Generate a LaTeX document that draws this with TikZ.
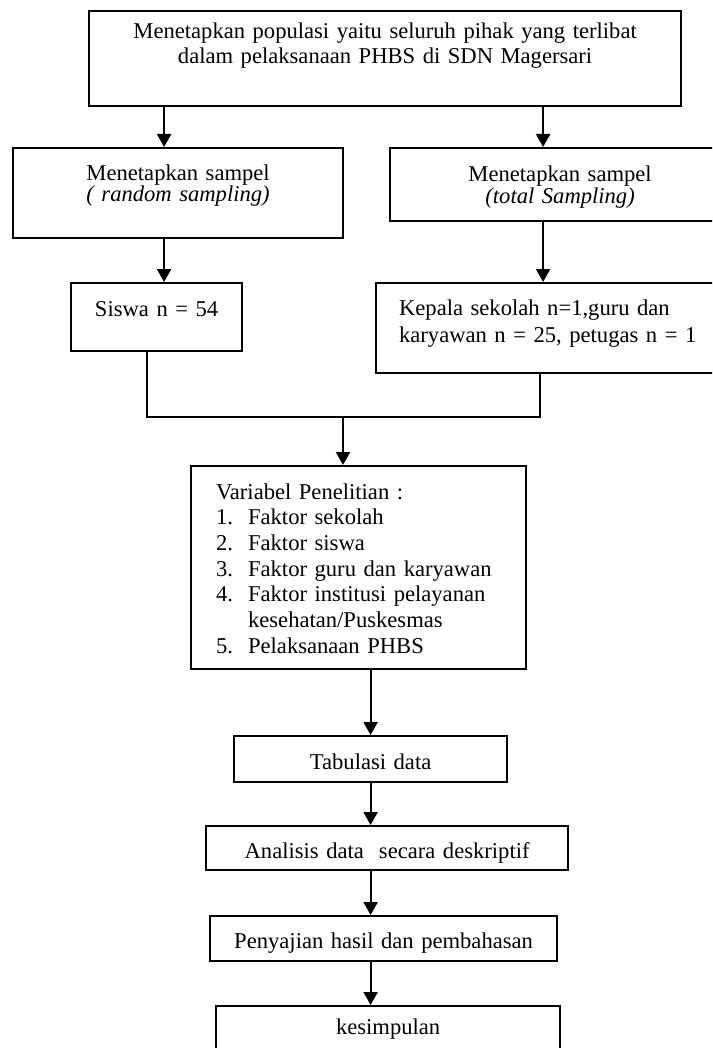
\documentclass[tikz,border=0pt]{standalone}
\usepackage{fontspec}
\setmainfont{Liberation Serif}
\usetikzlibrary{arrows.meta,positioning}

\begin{document}
\begin{tikzpicture}[x=0.5pt,y=-0.5pt,
  box/.style={draw,line width=1.1pt,inner sep=0pt,anchor=north west,align=center,
    font=\fontsize{11.3pt}{12.5pt}\selectfont},
  arr/.style={line width=1.1pt,-{Triangle[width=7pt,length=6.5pt]}},
  lnk/.style={line width=1.1pt}]
\useasboundingbox (0,0) rectangle (712,1048);
\clip (0,0) rectangle (712,1048);
\fill[white] (0,0) rectangle (712,1048);

\node[box,text width=296pt,text height=13.5pt,text depth=34pt] (pop) at (88,10)
  {Menetapkan populasi yaitu seluruh pihak yang terlibat\\dalam pelaksanaan PHBS di SDN Magersari};
\node[box,text width=165pt,text height=16pt,text depth=29pt,
  font=\fontsize{11.3pt}{10.5pt}\selectfont] (rand) at (12,147)
  {Menetapkan sampel\\\textit{( random sampling)}};
\node[box,text width=170pt,text height=16.5pt,text depth=20pt,
  font=\fontsize{11.3pt}{10pt}\selectfont] (total) at (389,147)
  {Menetapkan sampel\\\textit{(total Sampling)}};
\node[box,text width=85.5pt,text height=16.5pt,text depth=17.5pt] (siswa) at (70,282)
  {Siswa n = 54};
\node[box,align=left,inner xsep=11.5pt,text width=159.5pt,text height=16pt,text depth=29pt,
  font=\fontsize{11.3pt}{13.5pt}\selectfont] (kepala) at (375,282)
  {Kepala sekolah n=1,guru dan\\karyawan n = 25, petugas n = 1};
\node[box,align=left,inner xsep=12.5pt,text width=142.5pt,text height=16.5pt,text depth=85pt,
  font=\fontsize{11.3pt}{12.85pt}\selectfont] (var) at (190,465)
  {Variabel Penelitian :\\
   \makebox[16pt][l]{1.}Faktor sekolah\\
   \makebox[16pt][l]{2.}Faktor siswa\\
   \makebox[16pt][l]{3.}Faktor guru dan karyawan\\
   \makebox[16pt][l]{4.}Faktor institusi pelayanan\\
   \hspace*{16pt}kesehatan/Puskesmas\\
   \makebox[16pt][l]{5.}Pelaksanaan PHBS};
\node[box,text width=136.5pt,text height=16.5pt,text depth=6.5pt] (tab) at (233,735)
  {Tabulasi data};
\node[box,text width=181pt,text height=16pt,text depth=6pt] (anal) at (205,825)
  {Analisis data\ \ secara deskriptif};
\node[box,text width=173.5pt,text height=16pt,text depth=6.5pt] (saji) at (209,915)
  {Penyajian hasil dan pembahasan};
\node[box,text width=172pt,text height=14pt,text depth=13.5pt] (simpul) at (215,1005)
  {kesimpulan};

\coordinate (lj) at (147,417);
\coordinate (rj) at (540,417);
\coordinate (mj) at (343,417);

\draw[arr] ([xshift=-7pt]rand.north |- pop.south) -- ([xshift=-7pt]rand.north);
\draw[arr] ([xshift=-8.5pt]total.north |- pop.south) -- ([xshift=-8.5pt]total.north);
\draw[arr] ([xshift=-7pt]rand.south) -- ([xshift=-7pt]rand.south |- siswa.north);
\draw[arr] ([xshift=-8.5pt]total.south) -- ([xshift=-8.5pt]total.south |- kepala.north);
\draw[lnk] (siswa.south -| lj) -- (lj) -- (rj) -- (kepala.south -| rj);
\draw[arr] (mj) -- (var.north -| mj);
\draw[arr] (var.south -| tab.north) -- (tab.north);
\draw[arr] (tab.south) -- (tab.south |- anal.north);
\draw[arr] (anal.south -| tab.south) -- (saji.north -| tab.south);
\draw[arr] (saji.south -| tab.south) -- (simpul.north -| tab.south);
\end{tikzpicture}
\end{document}
